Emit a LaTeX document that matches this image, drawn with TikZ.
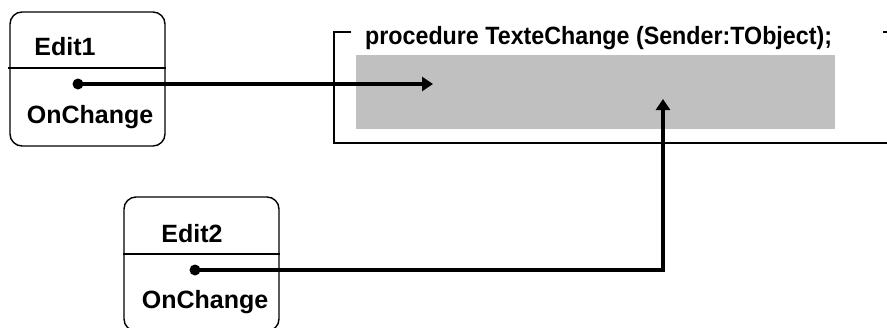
\documentclass[tikz,border=0pt]{standalone}
\usepackage{fontspec}
\setmainfont{Liberation Sans}
\usetikzlibrary{arrows.meta,positioning}
\definecolor{bodygray}{RGB}{192,192,192}
\tikzset{
    compbox/.style={draw, line width=1.4pt, rounded corners=12pt, minimum width=155pt, minimum height=134pt, inner sep=0pt},
    txt/.style={font=\bfseries\fontsize{25}{25}\selectfont, inner sep=0pt, anchor=base},
    pin/.style={circle, fill, inner sep=0pt, minimum size=11pt},
    wire/.style={draw, line width=3.6pt, -{Triangle[length=11pt, width=14pt]}}
}
\begin{document}
\begin{tikzpicture}[x=1pt, y=-1pt]
    \useasboundingbox (0,0) rectangle (887,327);
    \clip (0,0) rectangle (887,327);
    % Components
    \node[compbox] (ed1) at (87.5,79) {};
    \draw[line width=1.2pt] (8,68) -- (ed1.east |- 0,68);
    \node[txt] (ed1name) at (65,55) {Edit1};
    \node[txt] (ed1evt) at (90,123) {OnChange};
    \node[pin] (p1) at (78,84) {};

    \node[compbox] (ed2) at (201.5,264) {};
    \draw[line width=1.2pt] (123,254) -- (ed2.east |- 0,254);
    \node[txt] (ed2name) at (192,242) {Edit2};
    \node[txt] (ed2evt) at (205,308) {OnChange};
    \node[pin] (p2) at (195,270) {};

    % Procedure
    \node[fill=bodygray, minimum width=479pt, minimum height=74pt, inner sep=0pt] (body) at (595.5,92) {};
    \draw[line width=1.8pt] (351,32) -- (334,32) -- (334,143) -- (887,143);
    \draw[line width=1.8pt] (883,32) -- (887,32);
    \node[txt, anchor=base west] (proc) at (365,44) {\scalebox{0.93}[1]{procedure TexteChange (Sender:TObject);}};

    % Connections
    \coordinate (tip1) at (433,84);
    \coordinate (tip2) at (663,99);
    \draw[wire] (p1.center) -- (tip1);
    \draw[wire] (p2.center) -| (tip2);
\end{tikzpicture}
\end{document}
